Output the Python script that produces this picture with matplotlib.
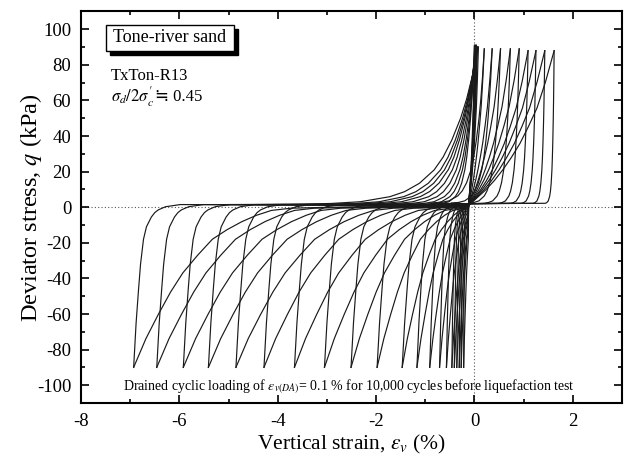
import matplotlib
matplotlib.use("Agg")
import matplotlib.pyplot as plt
from matplotlib.patches import Rectangle
from matplotlib.ticker import MultipleLocator

plt.rcParams["font.family"] = ["Liberation Serif", "DejaVu Sans"]
plt.rcParams["mathtext.fontset"] = "stix"
plt.rcParams["axes.unicode_minus"] = False

# --- данные ---
# пики растяжения (eps_v, %) и масштаб хвоста кривой нагружения к ним
ext_peaks = [-0.22, -0.27, -0.31, -0.36, -0.41, -0.46, -0.57, -0.71, -0.91, -1.17,
             -1.47, -1.98, -2.51, -3.05, -3.66, -4.28, -4.85, -5.41, -5.92, -6.46, -6.93]
ext_decay = [0.06, 0.075, 0.09, 0.1, 0.115, 0.13, 0.16, 0.2, 0.26, 0.33,
             0.42, 0.55, 0.68, 0.8, 0.9, 0.95, 1.0, 1.0, 1.0, 1.0, 1.0]
q_ext = -90

# пики сжатия около нуля (пологий веер кривых)
fan_peaks = [0.0, 0.01, 0.02, 0.02, 0.03, 0.04, 0.05, 0.06, 0.08]
fan_q = [91, 90, 91, 90, 90, 91, 90, 90, 90]
fan_width = [0.13, 0.17, 0.21, 0.26, 0.32, 0.38, 0.44, 0.5, 0.6]

# крутые пики сжатия справа
comp_peaks = [0.2, 0.36, 0.53, 0.73, 0.91, 1.09, 1.25, 1.43, 1.62]
comp_q = [89, 89, 89, 89, 89, 88, 88, 88, 88]
comp_width = [0.18, 0.14, 0.11, 0.09, 0.07, 0.06, 0.05, 0.04, 0.03]

# точка, где сходятся ветви
x0, q0 = -0.12, 1.0
q_flat = 1.5

# формы ветвей (нормированные)
ext_u = [0, 0.25, 0.5, 0.75, 1.0, 1.3, 1.6, 1.9, 2.2, 2.5, 2.8, 3.2, 4.0]
ext_f = [1, 0.82, 0.67, 0.53, 0.41, 0.30, 0.20, 0.14, 0.09, 0.05, 0.02, 0.006, 0.0]

stroke_de = [0, 0.03, 0.05, 0.1, 0.14, 0.2, 0.26, 0.36, 0.43, 0.5, 0.65, 0.95]
stroke_q = [-90, -75, -65, -46, -32, -18, -11, -5.5, -3, -1.5, 0.3, 1.5]

rise_u = [0, 0.2, 0.4, 0.6, 0.9, 1.2, 1.5, 2.0, 2.5, 3.0, 4.0, 5.0, 6.0]
rise_f = [1, 0.82, 0.67, 0.55, 0.41, 0.30, 0.22, 0.135, 0.082, 0.05, 0.018, 0.007, 0.0025]

unl_t = [0, 0.1, 0.2, 0.3, 0.4, 0.5, 0.6, 0.7, 0.8, 0.9, 1.0]
unl_f = [0, 0.05, 0.1, 0.16, 0.23, 0.31, 0.40, 0.51, 0.63, 0.8, 1.0]

lc = "#1a1a1a"
lw = 0.85

fig = plt.figure(figsize=(6.36, 4.59), dpi=100)
ax = fig.add_axes([0.1274, 0.122, 0.8506, 0.853])

# ветви растяжения
for e, L in zip(ext_peaks, ext_decay):
    # нагружение: от центра к пику
    xs, ys = [], []
    for u, f in zip(ext_u, ext_f):
        x = e + L * u
        if x < x0:
            xs.append(x)
            ys.append(q_ext * f)
    xs.append(x0)
    ys.append(q0)
    ax.plot(xs, ys, color=lc, lw=lw)
    # разгрузка: крутой подъем и полка вправо
    s = min(1.0, (x0 - e) / 1.3)
    xs = [e + s * d for d in stroke_de]
    ys = list(stroke_q)
    xs.append(x0)
    ys.append(q0)
    ax.plot(xs, ys, color=lc, lw=lw)

# пологий веер к пикам около нуля
for c, qp, w in zip(fan_peaks, fan_q, fan_width):
    xs = [c - w * u for u in rise_u][::-1]
    ys = [q_flat + (qp - q_flat) * f for f in rise_f][::-1]
    xs.insert(0, xs[0] - 1.5)
    ys.insert(0, q_flat)
    ax.plot(xs, ys, color=lc, lw=lw)

# крутые пики сжатия
for c, qp, w in zip(comp_peaks, comp_q, comp_width):
    xs = [c - w * u for u in rise_u][::-1]
    ys = [2.0 + (qp - 2.0) * f for f in rise_f][::-1]
    xs.insert(0, x0)
    ys.insert(0, q0 + 1)
    ax.plot(xs, ys, color=lc, lw=lw)

# разгрузка от всех пиков сжатия к центру
for c, qp in zip(fan_peaks + comp_peaks, fan_q + comp_q):
    xs = [x0 + (c - x0) * t for t in unl_t]
    ys = [q0 + (qp - q0) * f for f in unl_f]
    ax.plot(xs, ys, color=lc, lw=lw)

ax.axhline(0, color="#555555", lw=0.8, ls=(0, (1, 2)), zorder=0)
ax.axvline(0, color="#555555", lw=0.8, ls=(0, (1, 2)), zorder=0)

ax.set_xlim(-8, 3)
ax.set_ylim(-110, 110)
ax.xaxis.set_major_locator(MultipleLocator(2))
ax.xaxis.set_minor_locator(MultipleLocator(1))
ax.yaxis.set_major_locator(MultipleLocator(20))
ax.yaxis.set_minor_locator(MultipleLocator(10))
ax.tick_params(which="both", direction="in", top=True, right=True, width=1.2)
ax.tick_params(which="major", length=6, labelsize=13.5, pad=7)
ax.tick_params(which="minor", length=3)
for sp in ax.spines.values():
    sp.set_linewidth(1.5)

ax.set_xlabel(r"Vertical strain, $\varepsilon_v$ (%)", fontsize=15.5, labelpad=2)
ax.set_ylabel(r"Deviator stress, $q$ (kPa)", fontsize=17.5, labelpad=-5)

# рамка с тенью
ax.add_patch(Rectangle((-7.41, 85.8), 2.6, 14.5, facecolor="black", edgecolor="black", zorder=3))
ax.add_patch(Rectangle((-7.49, 88.0), 2.6, 14.5, facecolor="white", edgecolor="black", lw=1.0, zorder=4))
ax.text(-6.19, 95.2, "Tone-river sand", fontsize=13, ha="center", va="center", zorder=5)

ax.text(-7.39, 73.5, "TxTon-R13", fontsize=12, ha="left", va="center")
t1 = ax.text(-7.39, 62, r"$\sigma_d/2\sigma_c^{\prime}$", fontsize=12, ha="left", va="center")
ax.annotate("\u2252 0.45", xy=(1, 0.5), xycoords=t1, xytext=(1, 0),
            textcoords="offset points", fontsize=12, ha="left", va="center")

ax.text(-2.55, -101,
        r"Drained cyclic loading of $\varepsilon_{v(DA)}$= 0.1 % for 10,000 cycles before liquefaction test",
        fontsize=10, ha="center", va="center")

fig.savefig("out.png", dpi=100)
